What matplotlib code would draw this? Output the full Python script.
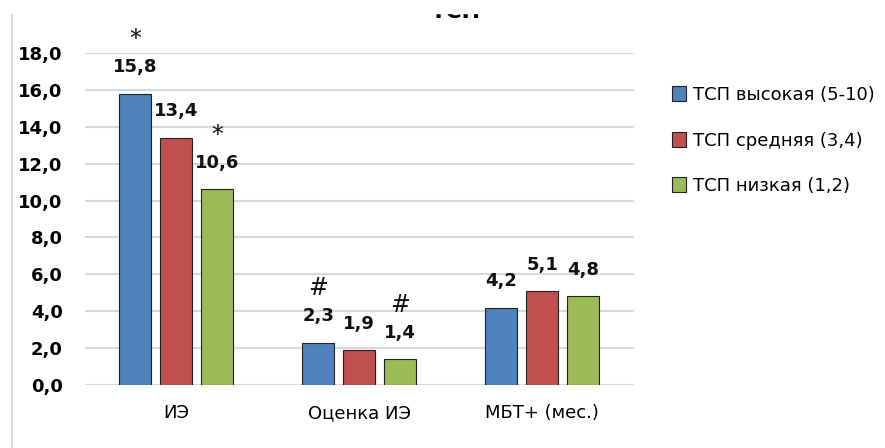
import numpy as np
import matplotlib
matplotlib.use("Agg")
from matplotlib import pyplot as plt
from matplotlib.lines import Line2D
from matplotlib.patches import Rectangle

categories = ["ИЭ", "Оценка ИЭ", "МБТ+ (мес.)"]
series_names = ["ТСП высокая (5-10)", "ТСП средняя (3,4)", "ТСП низкая (1,2)"]
high = [15.8, 2.3, 4.2]
mid = [13.4, 1.9, 5.1]
low = [10.6, 1.4, 4.8]
marks_high = ["*", "#", ""]
marks_mid = ["", "", ""]
marks_low = ["*", "#", ""]
yticks = [0, 2, 4, 6, 8, 10, 12, 14, 16, 18]

colors = ["#4f81bd", "#c0504d", "#9bbb59"]
plt.rcParams["font.family"] = ["DejaVu Sans"]

fig = plt.figure(figsize=(8.85, 4.48), dpi=100)
ax = fig.add_axes([0.096, 0.1406, 0.620, 0.7411])

x = np.arange(len(categories))
step = 0.224
width = 0.175
all_series = [high, mid, low]
all_marks = [marks_high, marks_mid, marks_low]
for i, (vals, marks) in enumerate(zip(all_series, all_marks)):
    pos = x + (i - 1) * step
    bars = ax.bar(pos, vals, width, color=colors[i], edgecolor="#222222",
                  linewidth=0.8, label=series_names[i], zorder=3)
    for b, v, m in zip(bars, vals, marks):
        cx = b.get_x() + b.get_width() / 2
        ax.annotate(f"{v:.1f}".replace(".", ","), (cx, v), xytext=(0, 19),
                    textcoords="offset points", ha="center", va="center",
                    fontsize=13, fontweight="bold", color="#111111")
        if m:
            ax.annotate(m, (cx, v), xytext=(0, 39), textcoords="offset points",
                        ha="center", va="center", fontsize=17, color="#111111")

ax.set_xlim(-0.5, 2.5)
ax.set_ylim(0, 18)
ax.set_yticks(yticks)
ax.set_yticklabels([f"{t:.1f}".replace(".", ",") for t in yticks],
                   fontsize=13, fontweight="bold")
ax.set_xticks(x)
ax.set_xticklabels(categories, fontsize=13)
ax.tick_params(axis="both", length=0)
ax.tick_params(axis="y", pad=16)
ax.tick_params(axis="x", pad=14)
ax.grid(axis="y", color="#d9d9d9", linewidth=1.5, zorder=0)
for s in ax.spines.values():
    s.set_visible(False)

ax.legend(loc="upper left", bbox_to_anchor=(1.041, 0.949), frameon=False,
          fontsize=13, labelspacing=1.52, handlelength=0.75, handleheight=0.9,
          handletextpad=0.4)

fig.text(0.515, 1 - 18 / 448, "ТСП", ha="center", va="baseline",
         fontsize=16, fontweight="bold")
fig.add_artist(Rectangle((0, 1 - 13 / 448), 1, 13 / 448, transform=fig.transFigure,
                         color="white", zorder=10))
fig.add_artist(Line2D([12 / 885, 12 / 885], [0, 1 - 14 / 448],
                      transform=fig.transFigure, color="#d9d9d9", linewidth=1.5))

fig.savefig("out.png", dpi=100)
